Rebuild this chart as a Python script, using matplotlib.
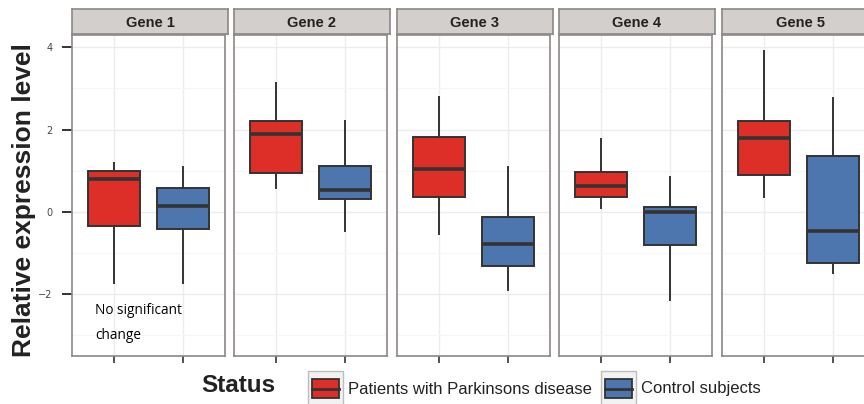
import matplotlib.pyplot as plt
from matplotlib.patches import Rectangle

# Data: box stats (whisker low, Q1, median, Q3, whisker high) per gene
genes = ['Gene 1', 'Gene 2', 'Gene 3', 'Gene 4', 'Gene 5']
groups = ['Patients with Parkinsons disease', 'Control subjects']
colors = ['#dd2f28', '#4c76ad']

pd_low = [-1.74, 0.58, -0.53, 0.09, 0.35]
pd_q1 = [-0.35, 0.94, 0.37, 0.35, 0.89]
pd_med = [0.79, 1.90, 1.04, 0.62, 1.79]
pd_q3 = [0.99, 2.20, 1.81, 0.96, 2.20]
pd_high = [1.18, 3.13, 2.79, 1.76, 3.91]

ct_low = [-1.74, -0.47, -1.91, -2.15, -1.50]
ct_q1 = [-0.43, 0.30, -1.31, -0.82, -1.25]
ct_med = [0.13, 0.54, -0.78, -0.01, -0.47]
ct_q3 = [0.57, 1.11, -0.12, 0.11, 1.35]
ct_high = [1.08, 2.20, 1.09, 0.84, 2.76]

yticks = [-2, 0, 2, 4]

W, H = 864, 404
fig = plt.figure(figsize=(W / 100, H / 100), dpi=100)

edge = '#333333'
border = '#8c8886'
panel_lefts = [72, 234, 397, 559, 722]
pw = 153
ptop, pbot = 35, 356
stop, sbot = 9, 34

for i, g in enumerate(genes):
    ax = fig.add_axes([panel_lefts[i] / W, (H - pbot) / H, pw / W, (pbot - ptop) / H])
    stats = [
        dict(whislo=pd_low[i], q1=pd_q1[i], med=pd_med[i], q3=pd_q3[i], whishi=pd_high[i], fliers=[]),
        dict(whislo=ct_low[i], q1=ct_q1[i], med=ct_med[i], q3=ct_q3[i], whishi=ct_high[i], fliers=[]),
    ]
    bp = ax.bxp(stats, positions=[1, 2], widths=0.75, patch_artist=True, showcaps=False,
                boxprops=dict(edgecolor=edge, linewidth=1.4),
                whiskerprops=dict(color=edge, linewidth=1.4),
                medianprops=dict(color=edge, linewidth=2.6, solid_capstyle='butt'))
    for patch, c in zip(bp['boxes'], colors):
        patch.set_facecolor(c)
    ax.set_xlim(0.4, 2.6)
    ax.set_ylim(-3.51, 4.30)
    ax.set_yticks(yticks)
    ax.set_yticks([-3, -1, 1, 3], minor=True)
    ax.set_xticks([1, 2])
    ax.set_xticklabels([])
    ax.grid(True, which='major', color='#ececec', linewidth=1.0)
    ax.grid(True, which='minor', axis='y', color='#f6f6f6', linewidth=0.8)
    ax.set_axisbelow(True)
    for s in ax.spines.values():
        s.set_color(border)
        s.set_linewidth(1.2)
    ax.tick_params(axis='x', length=5, width=1.2, color=edge)
    ax.tick_params(axis='y', which='minor', length=0)
    if i == 0:
        ax.tick_params(axis='y', length=7, width=1.4, color=edge, labelsize=7,
                       labelcolor='#444444', pad=7)
        ax.text(0.15, 0.103, 'No significant\nchange', transform=ax.transAxes,
                fontsize=9.8, family='Open Sans', va='center', ha='left',
                linespacing=1.85)
    else:
        ax.tick_params(axis='y', length=0, labelleft=False)

    # strip
    sx = fig.add_axes([panel_lefts[i] / W, (H - sbot) / H, (pw + 3) / W, (sbot - stop) / H])
    sx.set_facecolor('#d3cfcc')
    sx.set_xticks([])
    sx.set_yticks([])
    for s in sx.spines.values():
        s.set_color(border)
        s.set_linewidth(1.2)
    sx.text(0.5, 0.45, g, ha='center', va='center', fontsize=10.5, fontweight='bold',
            family='Liberation Sans', color='#222222', transform=sx.transAxes)

# Labels and legend drawn in pixel coordinates
lg = fig.add_axes([0, 0, 1, 1], facecolor='none')
lg.set_xlim(0, W)
lg.set_ylim(H, 0)
lg.axis('off')
lg.text(24, 200, 'Relative expression level', rotation=90, ha='center', va='center',
        fontsize=19, fontweight='bold', family='Liberation Sans', color='#222222')
lg.text(238, 386, 'Status', ha='center', va='center', fontsize=17.5, fontweight='bold',
        family='Liberation Sans', color='#222222')
key_x = [308, 601]
for kx, c, lab in zip(key_x, colors, groups):
    lg.add_patch(Rectangle((kx, 371), 35, 34, facecolor='#f2f2f2', edgecolor='#bdbdbd', lw=1.0))
    lg.add_patch(Rectangle((kx + 4, 379), 27, 19, facecolor=c, edgecolor=edge, lw=1.3))
    lg.plot([kx + 4, kx + 31], [388.5, 388.5], color=edge, lw=2.0)
    lg.text(kx + 40, 389, lab, ha='left', va='center', fontsize=12,
            family='Liberation Sans', color='#222222')

fig.savefig('out.png', dpi=100)
